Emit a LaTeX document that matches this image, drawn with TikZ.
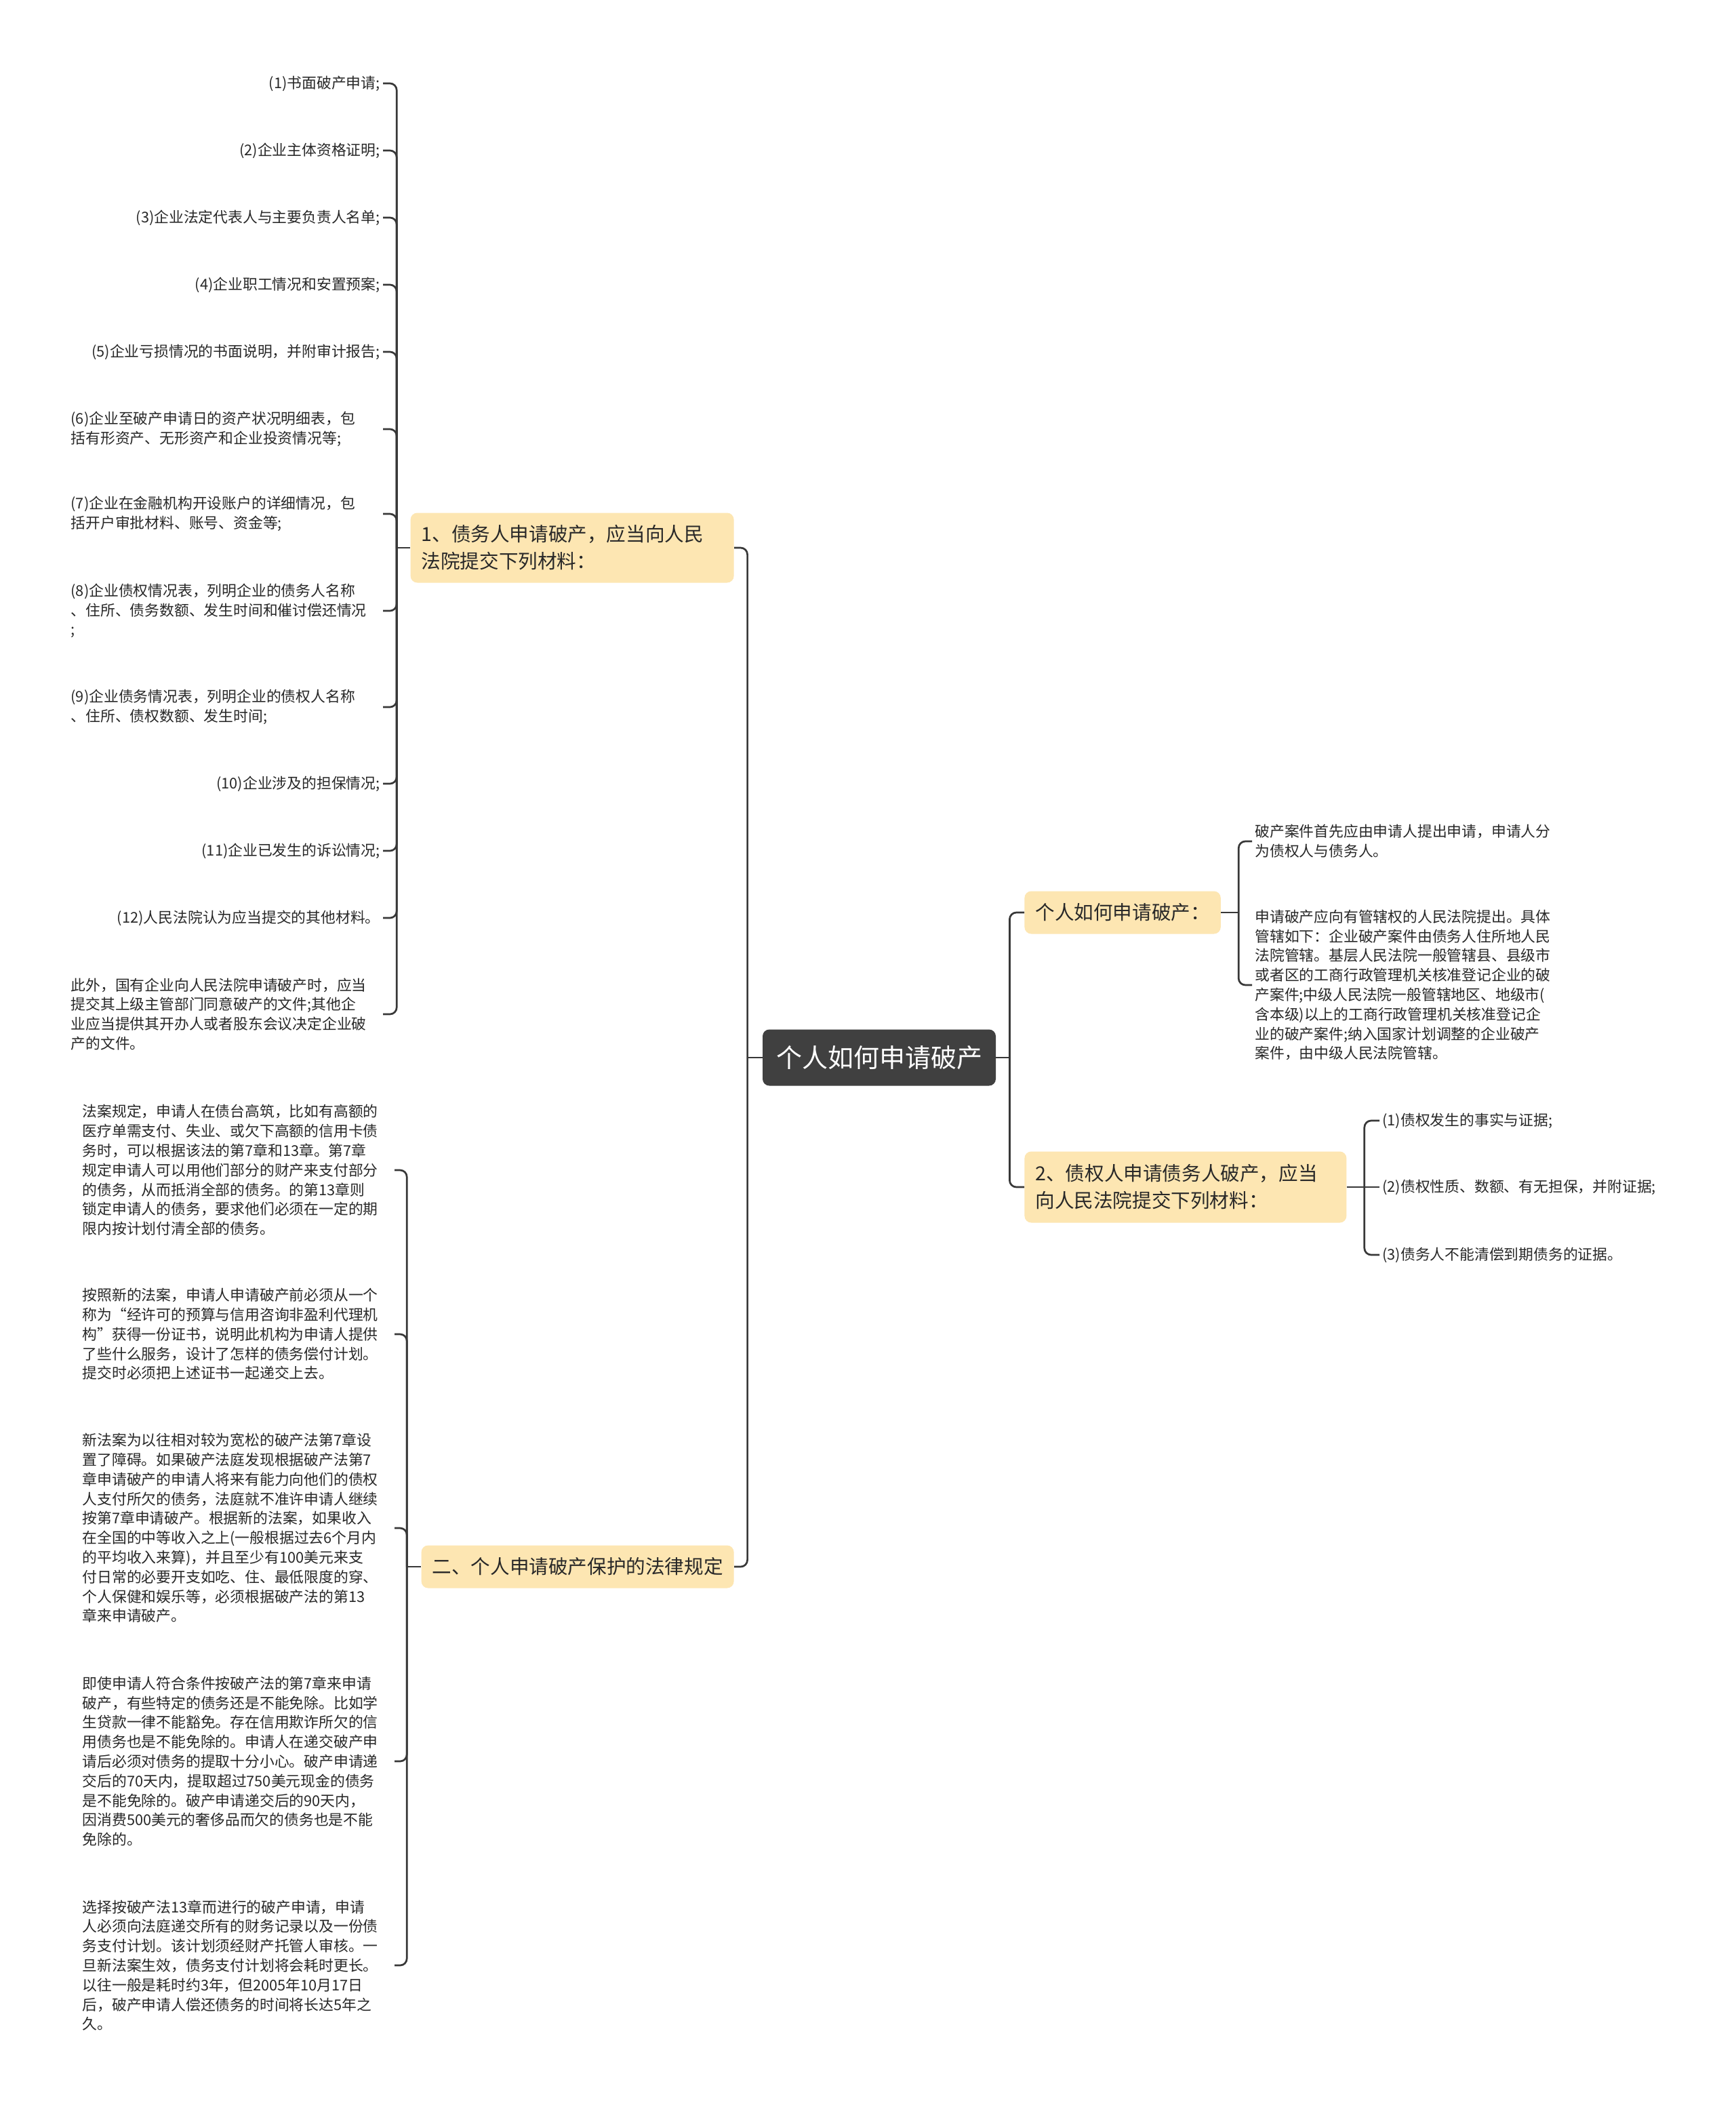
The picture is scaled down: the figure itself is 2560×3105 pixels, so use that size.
\documentclass[tikz,border=0pt]{standalone}
\usepackage{fontspec}
\setmainfont{Noto Sans CJK SC}
\usetikzlibrary{positioning}
\definecolor{rootgray}{RGB}{64,64,64}
\definecolor{boxyellow}{RGB}{253,230,178}
\definecolor{linegray}{RGB}{56,56,56}
\definecolor{txtgray}{RGB}{40,40,40}
\begin{document}
\begin{tikzpicture}[x=0.5pt,y=-0.5pt,
	link/.style={draw=linegray,line width=1.35pt,rounded corners=5pt},
	rootbox/.style={fill=rootgray,text=white,rounded corners=5pt,minimum width=172pt,minimum height=41.5pt,font=\fontsize{19}{23}\selectfont},
	topic/.style={fill=boxyellow,text=txtgray,rounded corners=5pt,inner xsep=8pt,align=left,font=\fontsize{14.3}{20}\selectfont},
	leaf/.style={text=txtgray,inner xsep=2pt,inner ysep=1pt,font=\fontsize{10.9}{14.4}\selectfont}]
				\useasboundingbox[fill=white] (0,0) rectangle (2560,3105);
				\node[rootbox] (root) at (1297,1560) {个人如何申请破产};
				\node[topic,anchor=east,text width=222.5pt,minimum height=51.5pt] (b1) at (1083,808) {1、债务人申请破产，应当向人民\\法院提交下列材料：};
				\node[topic,anchor=east,minimum width=230.5pt,minimum height=31.5pt] (b2) at (1083,2311) {二、个人申请破产保护的法律规定};
				\node[topic,anchor=west,minimum width=142.5pt,minimum height=31.5pt] (r1) at (1511,1346) {个人如何申请破产：};
				\node[topic,anchor=west,text width=221.5pt,minimum height=52.5pt] (r2) at (1511,1751) {2、债权人申请债务人破产，应当\\向人民法院提交下列材料：};
				\coordinate[left=11pt of root] (jl);
				\coordinate[right=10pt of root] (jr);
				\coordinate[left=10pt of b1] (j1);
				\coordinate[left=10.5pt of b2] (j2);
				\coordinate[right=13pt of r1] (j3);
				\coordinate[right=13pt of r2] (j4);
				\foreach \i/\y/\a/\t in {
					1/123/right/{(1)书面破产申请;},
					2/222/right/{(2)企业主体资格证明;},
					3/321/right/{(3)企业法定代表人与主要负责人名单;},
					4/420/right/{(4)企业职工情况和安置预案;},
					5/519/right/{(5)企业亏损情况的书面说明，并附审计报告;},
					6/633/left/{(6)企业至破产申请日的资产状况明细表，包\\括有形资产、无形资产和企业投资情况等;},
					7/758/left/{(7)企业在金融机构开设账户的详细情况，包\\括开户审批材料、账号、资金等;},
					8/901/left/{(8)企业债权情况表，列明企业的债务人名称\\、住所、债务数额、发生时间和催讨偿还情况\\;},
					9/1043/left/{(9)企业债务情况表，列明企业的债权人名称\\、住所、债权数额、发生时间;},
					10/1156/right/{(10)企业涉及的担保情况;},
					11/1255/right/{(11)企业已发生的诉讼情况;},
					12/1354/right/{(12)人民法院认为应当提交的其他材料。},
					13/1496/left/{此外，国有企业向人民法院申请破产时，应当\\提交其上级主管部门同意破产的文件;其他企\\业应当提供其开办人或者股东会议决定企业破\\产的文件。}}{
					\node[leaf,text width=228pt,align=\a,anchor=east] (u\i) at (565,\y) {\t};
				}
				\foreach \i/\y/\t in {
					1/1726/{法案规定，申请人在债台高筑，比如有高额的\\医疗单需支付、失业、或欠下高额的信用卡债\\务时，可以根据该法的第7章和13章。第7章\\规定申请人可以用他们部分的财产来支付部分\\的债务，从而抵消全部的债务。的第13章则\\锁定申请人的债务，要求他们必须在一定的期\\限内按计划付清全部的债务。},
					2/1968/{按照新的法案，申请人申请破产前必须从一个\\称为“经许可的预算与信用咨询非盈利代理机\\构”获得一份证书，说明此机构为申请人提供\\了些什么服务，设计了怎样的债务偿付计划。\\提交时必须把上述证书一起递交上去。},
					3/2254/{新法案为以往相对较为宽松的破产法第7章设\\置了障碍。如果破产法庭发现根据破产法第7\\章申请破产的申请人将来有能力向他们的债权\\人支付所欠的债务，法庭就不准许申请人继续\\按第7章申请破产。根据新的法案，如果收入\\在全国的中等收入之上(一般根据过去6个月内\\的平均收入来算)，并且至少有100美元来支\\付日常的必要开支如吃、住、最低限度的穿、\\个人保健和娱乐等，必须根据破产法的第13\\章来申请破产。},
					4/2598/{即使申请人符合条件按破产法的第7章来申请\\破产，有些特定的债务还是不能免除。比如学\\生贷款一律不能豁免。存在信用欺诈所欠的信\\用债务也是不能免除的。申请人在递交破产申\\请后必须对债务的提取十分小心。破产申请递\\交后的70天内，提取超过750美元现金的债务\\是不能免除的。破产申请递交后的90天内，\\因消费500美元的奢侈品而欠的债务也是不能\\免除的。},
					5/2899/{选择按破产法13章而进行的破产申请，申请\\人必须向法庭递交所有的财务记录以及一份债\\务支付计划。该计划须经财产托管人审核。一\\旦新法案生效，债务支付计划将会耗时更长。\\以往一般是耗时约3年，但2005年10月17日\\后，破产申请人偿还债务的时间将长达5年之\\久。}}{
					\node[leaf,text width=228pt,align=left,anchor=east] (d\i) at (582,\y) {\t};
				}
				\node[leaf,align=left,anchor=west] (c1) at (1847,1241) {破产案件首先应由申请人提出申请，申请人分\\为债权人与债务人。};
				\node[leaf,align=left,anchor=west] (c2) at (1847,1453) {申请破产应向有管辖权的人民法院提出。具体\\管辖如下：企业破产案件由债务人住所地人民\\法院管辖。基层人民法院一般管辖县、县级市\\或者区的工商行政管理机关核准登记企业的破\\产案件;中级人民法院一般管辖地区、地级市(\\含本级)以上的工商行政管理机关核准登记企\\业的破产案件;纳入国家计划调整的企业破产\\案件，由中级人民法院管辖。};
				\node[leaf,anchor=west] (e1) at (2035,1653) {(1)债权发生的事实与证据;};
				\node[leaf,anchor=west] (e2) at (2035,1751) {(2)债权性质、数额、有无担保，并附证据;};
				\node[leaf,anchor=west] (e3) at (2035,1851) {(3)债务人不能清偿到期债务的证据。};
				\draw[link] (root.west) -- (jl);
				\draw[link] (root.east) -- (jr);
				\foreach \n in {b1,b2} \draw[link] (jl) |- (\n.east);
				\foreach \n in {r1,r2} \draw[link] (jr) |- (\n.west);
				\draw[link] (b1.west) -- (j1);
				\foreach \i in {1,...,13} \draw[link] (j1) |- (u\i.east);
				\draw[link] (b2.west) -- (j2);
				\foreach \i in {1,...,5} \draw[link] (j2) |- (d\i.east);
				\draw[link] (r1.east) -- (j3);
				\foreach \i in {1,2} \draw[link] (j3) |- (c\i.west);
				\draw[link] (r2.east) -- (j4);
				\foreach \i in {1,3} \draw[link] (j4) |- (e\i.west);
				\draw[link] (j4) -- (e2.west);
			\end{tikzpicture}
\end{document}
